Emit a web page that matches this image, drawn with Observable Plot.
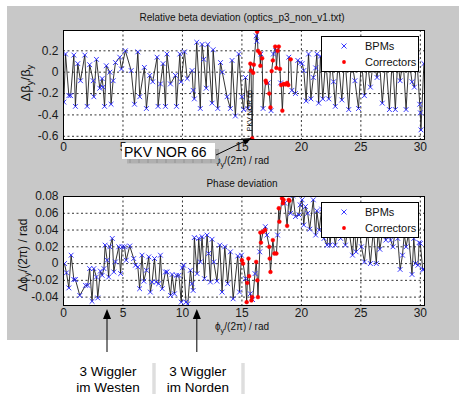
<!DOCTYPE html>
<html><head><meta charset="utf-8">
<script src="https://cdn.jsdelivr.net/npm/d3@7"></script>
<script src="https://cdn.jsdelivr.net/npm/@observablehq/plot@0.6"></script>
<style>
body{margin:0;background:#fff;width:459px;height:395px;overflow:hidden;position:relative;font-family:"Liberation Sans",Arial,sans-serif}
#fig{position:absolute;left:7px;top:6px;width:452px;height:334px;background:#c8c8c8}
.panel{position:absolute;left:0}
#ov{position:absolute;left:0;top:0;pointer-events:none}
</style></head><body>
<div id="fig"></div>
<div id="p1" class="panel" style="top:0px"></div>
<div id="p2" class="panel" style="top:170px"></div>
<svg id="ov" width="459" height="395"></svg>
<script>
// ---------- data ----------
const xTicks = [0, 5, 10, 15, 20, 25, 30];
const xTickLabelsTop = [0, 5, 15, 20, 25, 30]; // "10" is hidden under the PKV NOR 66 box
const betaTicks = [-0.6, -0.4, -0.2, 0, 0.2];
const phaseTicks = [-0.04, -0.02, 0, 0.02, 0.04, 0.06, 0.08];
const xDomain = [0, 30.35];
const betaDomain = [-0.63, 0.39];
const phaseDomain = [-0.05, 0.08];
const seriesNames = ["BPMs", "Correctors"];
const titleTop = "Relative beta deviation (optics_p3_non_v1.txt)";
const titleBottom = "Phase deviation";
const pkvLabel = "PKV NOR 66";
const pkvPoint = [15.86, -0.62];
const wigglerPhase = [3.7, 11.25];
const wigglerLabels = [["3 Wiggler", "im Westen"], ["3 Wiggler", "im Norden"]];

// relative beta deviation at BPMs [phase/(2pi), dBeta/Beta]
const bpmBeta = [[0.03,-0.28],[0.17,0.17],[0.45,-0.22],[0.6,-0.22],[0.87,0.16],[1.0,-0.32],[1.2,0.08],[1.43,-0.08],[1.79,0.16],[1.99,-0.32],[2.2,0.07],[2.5,-0.08],[2.55,-0.23],[2.77,0.12],[3.05,-0.15],[3.25,-0.06],[3.33,-0.14],[3.45,-0.32],[3.6,0.06],[3.9,0.0],[4.0,-0.3],[4.17,-0.08],[4.37,0.09],[4.73,0.14],[4.87,0.03],[5.2,0.2],[5.69,0.015],[5.97,-0.3],[6.25,0.19],[6.41,-0.23],[6.8,0.045],[6.97,-0.34],[7.25,-0.03],[7.5,-0.09],[7.87,0.14],[7.95,-0.32],[8.15,-0.11],[8.37,0.08],[8.57,-0.32],[8.7,0.17],[8.99,-0.11],[9.41,-0.03],[9.5,-0.32],[9.78,0.17],[9.89,-0.09],[10.17,0.19],[10.4,-0.06],[10.81,0.015],[10.9,-0.17],[11.0,-0.25],[11.2,0.28],[11.5,-0.34],[11.65,0.26],[11.79,0.12],[12.0,-0.15],[12.13,0.26],[12.49,-0.29],[12.58,0.21],[12.97,-0.34],[13.2,0.09],[13.35,0.0],[13.75,-0.23],[14.03,-0.34],[14.17,0.11],[14.45,-0.41],[14.73,0.17],[15.0,-0.23],[15.15,-0.35],[15.3,-0.05],[15.5,-0.34],[16.2,0.34],[16.25,0.29],[16.6,0.17],[16.78,-0.34],[17.2,-0.1],[17.45,-0.36],[17.65,0.17],[17.85,0.2],[18.25,-0.1],[18.94,0.14],[19.2,-0.17],[19.5,-0.2],[19.7,0.11],[19.9,0.09],[20.06,0.08],[20.2,0.015],[20.4,-0.27],[20.6,0.17],[20.8,-0.25],[21.0,-0.05],[21.2,0.04],[21.3,0.17],[21.45,-0.29],[21.6,0.15],[21.8,-0.25],[22.05,0.12],[22.3,-0.25],[22.5,0.14],[22.7,-0.09],[22.85,-0.32],[23.1,0.12],[23.4,-0.26],[23.65,0.15],[23.98,-0.35],[24.2,0.12],[24.5,-0.08],[24.8,-0.34],[25.05,0.12],[25.3,-0.22],[25.55,0.1],[25.8,-0.14],[26.05,0.12],[26.36,-0.05],[26.55,0.14],[26.8,-0.29],[27.1,0.12],[27.4,-0.35],[27.65,0.14],[27.9,-0.35],[28.1,0.12],[28.3,-0.08],[28.55,0.12],[28.8,-0.35],[29.05,0.12],[29.3,-0.09],[29.5,-0.14],[29.7,0.14],[29.95,-0.3],[30.0,-0.38],[30.05,-0.54],[30.3,0.08]];

// relative beta deviation at correctors
const corrBeta = [[15.71,0.08],[15.77,0.015],[15.86,-0.62],[15.95,-0.006],[16.0,0.07],[16.28,0.38],[16.35,0.2],[16.5,0.18],[16.55,0.06],[16.7,0.13],[17.0,-0.08],[17.05,-0.1],[17.3,-0.2],[17.4,-0.33],[17.5,0.01],[17.6,0.11],[17.8,0.24],[17.9,0.04],[18.0,0.2],[18.1,0.24],[18.2,0.03],[18.3,-0.12],[18.4,-0.36],[18.5,-0.11],[18.65,-0.115],[18.8,-0.1],[18.9,-0.12],[19.1,0.12]];

// phase deviation at BPMs [phase/(2pi), dPhi/(2pi)]
const bpmPhase = [[0.08,0.0],[0.25,-0.011],[0.45,-0.029],[0.64,0.01],[0.87,-0.019],[1.0,-0.019],[1.37,-0.038],[1.85,-0.026],[2.04,-0.026],[2.2,-0.006],[2.4,-0.045],[2.55,-0.006],[2.77,-0.016],[2.88,-0.041],[3.1,-0.009],[3.25,-0.014],[3.4,-0.006],[3.5,0.022],[3.67,0.004],[3.8,-0.016],[3.9,0.02],[4.1,0.03],[4.23,-0.01],[4.37,0.002],[4.65,0.02],[4.8,-0.012],[4.93,0.02],[5.13,0.02],[5.27,0.004],[5.57,0.021],[5.9,0.006],[6.05,-0.002],[6.25,-0.004],[6.4,-0.03],[6.6,0.01],[6.75,-0.021],[6.97,-0.008],[7.17,0.008],[7.3,-0.034],[7.45,-0.022],[7.65,0.006],[7.8,-0.022],[8.0,-0.024],[8.15,0.01],[8.3,-0.03],[8.57,-0.01],[8.7,-0.01],[9.0,-0.038],[9.13,-0.013],[9.33,-0.036],[9.5,-0.014],[9.7,-0.014],[9.9,-0.046],[10.0,-0.005],[10.1,-0.002],[10.3,-0.046],[10.45,-0.048],[10.67,-0.008],[10.8,-0.024],[10.9,-0.032],[11.0,0.031],[11.23,-0.012],[11.37,0.03],[11.5,0.002],[11.65,0.032],[11.85,-0.018],[12.07,0.034],[12.2,0.012],[12.35,-0.022],[12.49,0.029],[12.63,0.002],[12.9,-0.021],[13.14,0.022],[13.33,-0.034],[13.56,0.02],[13.8,-0.024],[14.03,0.014],[14.26,-0.042],[14.65,0.009],[14.8,-0.034],[14.96,0.01],[15.3,-0.018],[15.7,-0.036],[15.9,-0.043],[16.1,-0.012],[16.5,0.014],[16.97,0.044],[17.1,0.034],[18.0,0.034],[18.6,0.072],[19.1,0.06],[19.3,0.081],[19.5,0.056],[19.8,0.058],[19.9,0.07],[20.06,0.076],[20.2,0.046],[20.34,0.068],[20.53,0.06],[20.7,0.041],[21.0,0.076],[21.2,0.034],[21.3,0.063],[21.5,0.04],[21.7,0.065],[21.9,0.03],[22.16,0.022],[22.3,0.055],[22.4,0.022],[22.6,0.05],[22.85,0.022],[23.1,0.05],[23.3,0.03],[23.5,0.05],[23.7,0.022],[23.95,0.045],[24.3,0.01],[24.45,0.045],[24.6,0.014],[24.85,0.045],[25.05,0.02],[25.3,0.002],[25.55,0.04],[25.8,0.0],[26.05,0.04],[26.3,0.0],[26.45,0.04],[26.6,0.017],[26.85,0.04],[27.1,0.028],[27.3,0.045],[27.5,0.028],[27.7,0.02],[27.9,0.04],[28.1,0.03],[28.3,-0.007],[28.5,0.01],[28.65,0.035],[28.8,0.02],[29.0,0.035],[29.3,-0.013],[29.45,0.03],[29.6,0.0],[29.8,-0.002],[29.9,0.025],[30.0,0.024],[30.2,-0.007],[30.3,-0.007]];

// phase deviation at correctors
const corrPhase = [[15.0,0.004],[15.1,0.0],[15.4,-0.046],[15.45,-0.023],[15.55,0.006],[15.6,-0.015],[15.8,-0.044],[15.86,-0.04],[16.2,0.002],[16.3,-0.02],[16.35,-0.04],[16.55,0.037],[16.6,0.025],[16.78,0.038],[16.95,0.04],[17.3,0.02],[17.34,0.006],[17.4,-0.01],[17.6,0.028],[17.73,0.012],[17.9,0.012],[18.1,0.066],[18.15,0.05],[18.37,0.078],[18.45,0.072],[18.5,0.076],[18.8,0.045],[18.94,0.076],[19.0,0.075]];

// ---------- drawing ----------
const FONT = "'Liberation Sans', Arial, sans-serif";
const fmt = d => String(Math.round(d * 100) / 100);
const rows = pairs => pairs.map(([p, v]) => ({p, v}));
const BLUE = "#2424ff", RED = "#ff0000";

function panel(bpm, corr, yDomain, yTicks, xLabels, mt, mb, extra) {
  const b = rows(bpm), c = rows(corr);
  const all = d3.sort(b.concat(c), d => d.p);
  return Plot.plot({
    width: 459, height: 170,
    marginLeft: 63, marginRight: 35, marginTop: mt, marginBottom: mb,
    style: {background: "transparent", fontFamily: FONT, fontSize: "12px", color: "#1a1a1a", overflow: "visible"},
    x: {domain: xDomain},
    y: {domain: yDomain},
    marks: [
      Plot.frame({fill: "white"}),
      Plot.gridX(xTicks, {stroke: "#000", strokeOpacity: 1, strokeWidth: 0.8, strokeDasharray: "2,2.5"}),
      Plot.gridY(yTicks, {stroke: "#000", strokeOpacity: 1, strokeWidth: 0.8, strokeDasharray: "2,2.5"}),
      Plot.line(all, {x: "p", y: "v", stroke: "#1e1e1e", strokeWidth: 0.9, clip: true}),
      Plot.dot(b, {x: "p", y: "v", symbol: "times", r: 2.3, stroke: BLUE, strokeWidth: 0.9, clip: true}),
      Plot.dot(c, {x: "p", y: "v", r: 1.9, fill: RED, stroke: RED, strokeWidth: 0.5, clip: true}),
      ...extra,
      Plot.frame({stroke: "#000", strokeWidth: 1}),
      Plot.axisX(xLabels, {tickSize: 0, tickPadding: 3, label: null, tickFormat: fmt, fontSize: 12, fill: "#1a1a1a"}),
      Plot.axisY(yTicks, {tickSize: 0, tickPadding: 5, label: null, tickFormat: fmt, fontSize: 12, fill: "#1a1a1a"})
    ]
  });
}

const plotTop = panel(bpmBeta, corrBeta, betaDomain, betaTicks, xTickLabelsTop, 30, 31, [
  Plot.text([{p: 15.7, v: -0.36}], {x: "p", y: "v", text: () => pkvLabel, rotate: -90, fontSize: 7, fill: "#000"})
]);
const plotBot = panel(bpmPhase, corrPhase, phaseDomain, phaseTicks, xTicks, 26, 35, []);
document.getElementById("p1").appendChild(plotTop);
document.getElementById("p2").appendChild(plotBot);

// ---------- annotations ----------
const ov = d3.select("#ov").attr("font-family", FONT);
const txt = (x, y, s, size, anchor = "middle") =>
  ov.append("text").attr("x", x).attr("y", y).attr("font-size", size).attr("text-anchor", anchor).attr("fill", "#111").text(s);

// titles
txt(242, 21, titleTop, 10);
txt(242, 187, titleBottom, 10);

// x labels
function xlabel(y) {
  const t = ov.append("text").attr("x", 242).attr("y", y).attr("font-size", 10).attr("text-anchor", "middle").attr("fill", "#111");
  t.append("tspan").text("ϕ");
  t.append("tspan").attr("font-size", 7.5).attr("dy", 3).text("y");
  t.append("tspan").attr("dy", -3).text("/(2π) / rad");
}
xlabel(164);
xlabel(330);

// y labels
function ylabel(x, y, parts, size) {
  const t = ov.append("text").attr("transform", `translate(${x},${y}) rotate(-90)`).attr("font-size", size).attr("text-anchor", "middle").attr("fill", "#111");
  let shifted = false;
  parts.forEach(([s, sub]) => {
    t.append("tspan").attr("dy", shifted ? -3 : 0).text(s);
    shifted = false;
    if (sub) { t.append("tspan").attr("font-size", size * 0.75).attr("dy", 3).text(sub); shifted = true; }
  });
}
ylabel(30, 83, [["Δβ", "y"], ["/β", "y"]], 13);
ylabel(27, 255, [["Δϕ", "y"], ["/(2π) / rad", null]], 12);

// legends
function legend(y0) {
  ov.append("rect").attr("x", 321.5).attr("y", y0 + 0.5).attr("width", 97).attr("height", 35).attr("fill", "white").attr("stroke", "#000");
  const mx = 344, y1 = y0 + 10, y2 = y0 + 26;
  ov.append("path").attr("d", `M${mx-2.5},${y1-2.5}L${mx+2.5},${y1+2.5}M${mx-2.5},${y1+2.5}L${mx+2.5},${y1-2.5}`).attr("stroke", BLUE).attr("stroke-width", 0.9);
  ov.append("circle").attr("cx", mx).attr("cy", y2).attr("r", 1.9).attr("fill", RED);
  txt(365, y1 + 4, seriesNames[0], 11, "start");
  txt(365, y2 + 4, seriesNames[1], 11, "start");
}
legend(36);
legend(202);

// PKV NOR 66 box and arrow
ov.append("rect").attr("x", 127).attr("y", 158.5).attr("width", 91).attr("height", 5).attr("fill", "#b0b0b0");
for (let i = 0; i < 10; i++) ov.append("line").attr("x1", 130 + i * 9).attr("x2", 130 + i * 9).attr("y1", 159).attr("y2", 163).attr("stroke", "#8a8a8a").attr("stroke-width", 0.7);
ov.append("rect").attr("x", 214).attr("y", 149).attr("width", 5).attr("height", 10).attr("fill", "#a8a8a8");
ov.append("rect").attr("x", 122).attr("y", 143).attr("width", 93).attr("height", 16).attr("fill", "white");
txt(124, 157, pkvLabel, 14, "start").attr("fill", "#000");

function arrow(x1, y1, x2, y2, len = 9, half = 3.5) {
  const a = Math.atan2(y2 - y1, x2 - x1);
  const bx = x2 - len * Math.cos(a), by = y2 - len * Math.sin(a);
  ov.append("line").attr("x1", x1).attr("y1", y1).attr("x2", bx).attr("y2", by).attr("stroke", "#000").attr("stroke-width", 1);
  const px = -Math.sin(a) * half, py = Math.cos(a) * half;
  ov.append("path").attr("d", `M${x2},${y2}L${bx + px},${by + py}L${bx - px},${by - py}Z`).attr("fill", "#000");
}
const sxTop = plotTop.scale("x"), syTop = plotTop.scale("y");
arrow(216, 155, sxTop.apply(pkvPoint[0]), syTop.apply(pkvPoint[1]));

// wiggler arrows and labels
const sxBot = plotBot.scale("x");
wigglerPhase.forEach((p, i) => {
  const x = sxBot.apply(p);
  arrow(x, 352, x, 309, 10, 4);
  txt(x + 1, 376, wigglerLabels[i][0], 13.5).attr("fill", "#000");
  txt(x + 1, 392, wigglerLabels[i][1], 13.5).attr("fill", "#000");
});
[154, 243].forEach(x => {
  ov.append("rect").attr("x", x - 1.5).attr("y", 363).attr("width", 3).attr("height", 31).attr("fill", "#d0d0d0");
  ov.append("line").attr("x1", x).attr("x2", x).attr("y1", 363).attr("y2", 394).attr("stroke", "#f4f4f4").attr("stroke-width", 0.8);
});
</script>
</body></html>
